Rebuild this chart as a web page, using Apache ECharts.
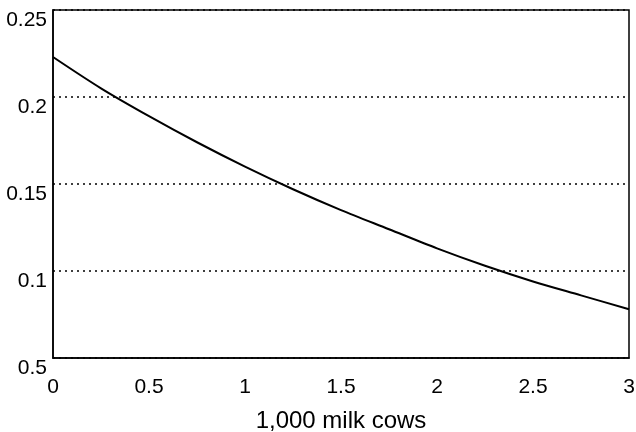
<!DOCTYPE html>
<html>
<head>
<meta charset="utf-8">
<script src="https://cdn.jsdelivr.net/npm/echarts@6/dist/echarts.min.js"></script>
<style>
  html, body { margin: 0; padding: 0; background: #fff; }
  #chart { width: 636px; height: 432px; }
</style>
</head>
<body>
<div id="chart"></div>
<script>
// Thousands of milk cows (x) against the plotted ratio (y)
const herdSize = [0, 0.25, 0.5, 0.75, 1, 1.25, 1.5, 1.75, 2, 2.25, 2.5, 2.75, 3];
const ratio    = [0.223, 0.205, 0.189, 0.174, 0.160, 0.147, 0.135, 0.124, 0.113, 0.103, 0.094, 0.086, 0.078];

// Y axis ticks and the labels printed beside them
const yTickValues = [0.05, 0.1, 0.15, 0.2, 0.25];
const yTickLabels = ['0.5', '0.1', '0.15', '0.2', '0.25'];
const xTickLabels = ['0', '0.5', '1', '1.5', '2', '2.5', '3'];
const xAxisTitle = '1,000 milk cows';

const font = '"Liberation Sans", Arial, Helvetica, sans-serif';

function yLabel(v) {
  let best = 0;
  yTickValues.forEach((t, i) => {
    if (Math.abs(t - v) < Math.abs(yTickValues[best] - v)) best = i;
  });
  return yTickLabels[best];
}
function xLabel(v) {
  const i = Math.round(v / 0.5);
  return xTickLabels[i] !== undefined ? xTickLabels[i] : '';
}

const chart = echarts.init(document.getElementById('chart'), null, { renderer: 'canvas' });
chart.setOption({
  animation: false,
  backgroundColor: '#fff',
  grid: {
    left: 53, right: 7, top: 10, bottom: 74,
    containLabel: false, outerBoundsMode: 'none',
    show: true, borderColor: '#000', borderWidth: 1.5, backgroundColor: 'transparent'
  },
  xAxis: {
    type: 'value', min: 0, max: 3, interval: 0.5,
    axisLine: { show: true, lineStyle: { color: '#000', width: 1.5 } },
    axisTick: { show: false },
    splitLine: { show: false },
    axisLabel: {
      formatter: xLabel, color: '#000', fontFamily: font, fontSize: 21, margin: 19,
      showMinLabel: true, showMaxLabel: true
    },
    name: xAxisTitle, nameLocation: 'middle', nameGap: 51,
    nameTextStyle: { color: '#000', fontFamily: font, fontSize: 24 }
  },
  yAxis: {
    type: 'value', min: 0.05, max: 0.25, interval: 0.05,
    axisLine: { show: true, lineStyle: { color: '#000', width: 1.5 } },
    axisTick: { show: false },
    splitLine: { show: true, lineStyle: { color: '#000', width: 1.6, type: [2, 4] } },
    axisLabel: {
      formatter: yLabel, color: '#000', fontFamily: font, fontSize: 21, margin: 6,
      verticalAlign: 'top', showMinLabel: true, showMaxLabel: true
    }
  },
  series: [{
    type: 'line',
    data: herdSize.map((x, i) => [x, ratio[i]]),
    smooth: 0.3,
    symbol: 'none',
    lineStyle: { color: '#000', width: 2 }
  }]
});
</script>
</body>
</html>
